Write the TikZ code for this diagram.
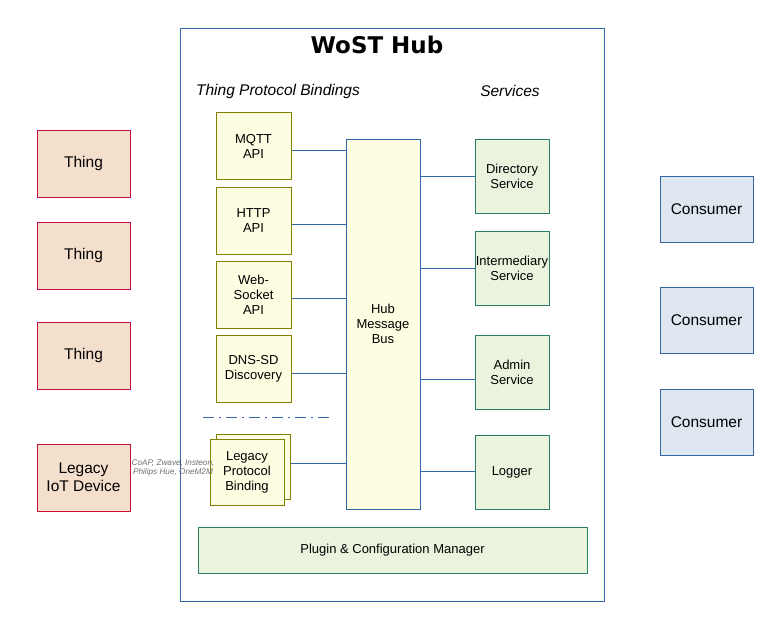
\documentclass[tikz,border=0pt]{standalone}
\usepackage{fontspec}
\setmainfont{Liberation Sans}
\newfontfamily\titlefont{DejaVu Sans}
\definecolor{hubblue}{HTML}{3465A4}
\definecolor{thingfill}{HTML}{F4DFCC}
\definecolor{thingdraw}{HTML}{C8103E}
\definecolor{consfill}{HTML}{DEE6EF}
\definecolor{bindfill}{HTML}{FDFDE2}
\definecolor{binddraw}{HTML}{807F00}
\definecolor{servfill}{HTML}{EBF2DE}
\definecolor{servdraw}{HTML}{2A7F62}
\definecolor{labelgray}{HTML}{707070}
\tikzset{
  bx/.style={draw, line width=1pt, inner sep=0pt, align=center, font=\fontsize{13}{15}\selectfont},
  thingbox/.style={bx, fill=thingfill, draw=thingdraw, minimum width=93pt, minimum height=67pt, font=\fontsize{15.5}{18}\selectfont},
  consbox/.style={bx, fill=consfill, draw=hubblue, minimum width=93pt, minimum height=66pt, font=\fontsize{15.5}{18}\selectfont},
  bindbox/.style={bx, fill=bindfill, draw=binddraw, minimum width=75pt, minimum height=67pt},
  servbox/.style={bx, fill=servfill, draw=servdraw, minimum width=74pt, minimum height=74pt},
  conn/.style={draw=hubblue, line width=1pt},
}
\begin{document}
\begin{tikzpicture}[x=1pt,y=-1pt]
\useasboundingbox (0,0) rectangle (777,629);
% hub frame
\node[draw=hubblue, line width=1pt, minimum width=424pt, minimum height=573pt, inner sep=0pt] (hub) at (392,314.5) {};
\node[font=\titlefont\bfseries\fontsize{23}{27}\selectfont] (title) at (377,45) {WoST Hub};
\node[font=\itshape\fontsize{15.5}{18}\selectfont] (lblbind) at (278,91) {Thing Protocol Bindings};
\node[font=\itshape\fontsize{15.5}{18}\selectfont] (lblserv) at (510,91) {Services};
% bindings
\node[bindbox] (mqtt) at (253.5,146) {MQTT\\API};
\node[bindbox] (http) at (253.5,220.5) {HTTP\\API};
\node[bindbox] (ws) at (253.5,294.5) {Web-\\Socket\\API};
\node[bindbox] (dns) at (253.5,368.5) {DNS-SD\\Discovery};
\node[bindbox, minimum width=74pt, minimum height=65pt] (legback) at (253,466.5) {};
\node[bindbox, minimum width=74pt, minimum height=66pt] (legfront) at (247,472) {Legacy\\Protocol\\Binding};
% bus
\node[bx, fill=bindfill, draw=hubblue, minimum width=74pt, minimum height=370pt] (bus) at (383,324) {Hub\\Message\\Bus};
% services
\node[servbox] (dir) at (512,176) {Directory\\Service};
\node[servbox] (inter) at (512,268) {Intermediary\\Service};
\node[servbox] (admin) at (512,372) {Admin\\Service};
\node[servbox] (logger) at (512,472) {Logger};
\node[bx, fill=servfill, draw=servdraw, minimum width=389pt, minimum height=46pt] (plugin) at (392.5,550) {Plugin \& Configuration Manager};
% things
\node[thingbox] (t1) at (83.5,163.5) {Thing};
\node[thingbox] (t2) at (83.5,255.5) {Thing};
\node[thingbox] (t3) at (83.5,355.5) {Thing};
\node[thingbox] (legacy) at (83.5,477.5) {Legacy\\IoT Device};
% consumers
\node[consbox] (c1) at (706.5,209) {Consumer};
\node[consbox] (c2) at (706.5,320) {Consumer};
\node[consbox] (c3) at (706.5,422) {Consumer};
% legacy label
\node[font=\itshape\fontsize{8.2}{9.5}\selectfont, text=labelgray, align=center, inner sep=0pt] (leglbl) at (173,468) {CoAP, Zwave, Insteon,\\ Philips Hue, OneM2M};
% connectors
\draw[conn] (mqtt.east |- 0,150) -- (bus.west |- 0,150);
\draw[conn] (http.east |- 0,224) -- (bus.west |- 0,224);
\draw[conn] (ws.east |- 0,298) -- (bus.west |- 0,298);
\draw[conn] (dns.east |- 0,373) -- (bus.west |- 0,373);
\draw[conn] (legback.east |- 0,463) -- (bus.west |- 0,463);
\draw[conn] (bus.east |- 0,176) -- (dir.west |- 0,176);
\draw[conn] (bus.east |- 0,268) -- (inter.west |- 0,268);
\draw[conn] (bus.east |- 0,379) -- (admin.west |- 0,379);
\draw[conn] (bus.east |- 0,471) -- (logger.west |- 0,471);
% separator
\coordinate (sepa) at (203,417);
\coordinate (sepb) at (330,417);
\draw[draw=hubblue, line width=1pt, dash pattern=on 11pt off 5pt on 2pt off 5pt] (sepa) -- (sepb);
\end{tikzpicture}
\end{document}
